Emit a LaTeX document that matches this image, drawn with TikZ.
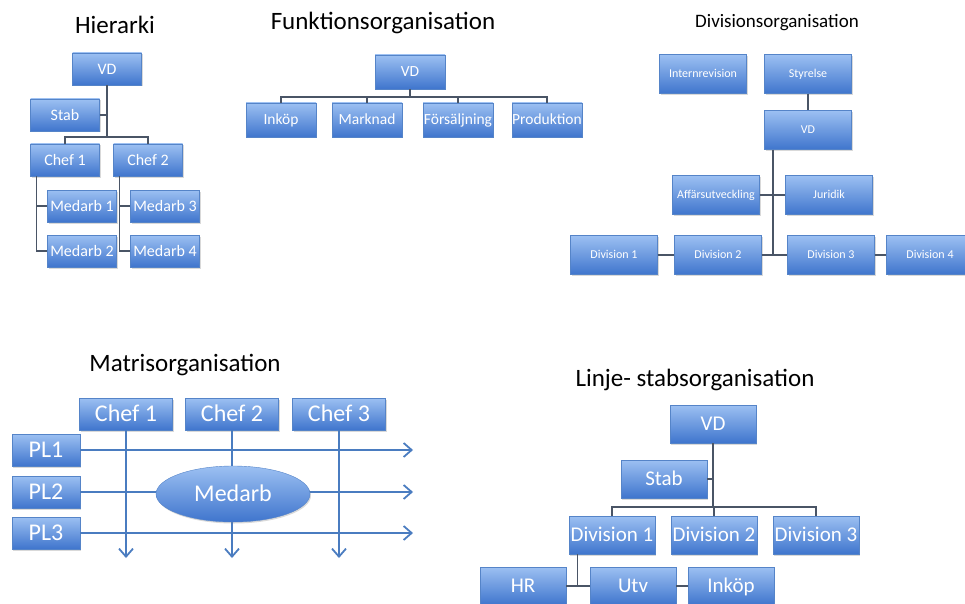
\documentclass[tikz,border=0pt]{standalone}
\usepackage{fontspec}
\setmainfont{Carlito}
\usepackage{tikz}
\usetikzlibrary{calc,positioning,arrows.meta,shapes.geometric,shadows}

\definecolor{boxtop}{HTML}{9CC0F2}
\definecolor{boxbot}{HTML}{3F75CD}
\definecolor{boxedge}{HTML}{5584C8}
\definecolor{linkgray}{HTML}{4A5566}
\definecolor{arrblue}{HTML}{4A7CC0}

\tikzset{
	orgbox/.style={draw=boxedge, line width=0.4pt, top color=boxtop, bottom color=boxbot,
		text=white, inner sep=0pt,
		drop shadow={opacity=0.3, shadow xshift=1pt, shadow yshift=-1.5pt}},
	hbox/.style={orgbox, minimum width=69pt, minimum height=32pt, font=\fontsize{16}{16}\selectfont,
		text height=11.5pt, text depth=1.3pt},
	fbox/.style={orgbox, minimum width=70pt, minimum height=34pt, font=\fontsize{15.5}{15.5}\selectfont,
		text height=11.2pt, text depth=1.2pt},
	dbox/.style={orgbox, minimum width=87pt, minimum height=39pt, font=\fontsize{12}{12}\selectfont,
		text height=8.6pt, text depth=1pt},
	mbox/.style={orgbox, minimum width=93pt, minimum height=32pt, font=\fontsize{24}{24}\selectfont,
		text height=17.3pt, text depth=1.9pt},
	lbox/.style={orgbox, minimum width=86pt, minimum height=38pt, font=\fontsize{21}{21}\selectfont,
		text height=15.1pt, text depth=1.7pt},
	title/.style={text=black, font=\fontsize{25}{25}\selectfont},
	link/.style={draw=linkgray, line width=1.2pt},
	marr/.style={draw=arrblue, line width=1.8pt, -{Straight Barb[length=8pt,width=14pt,line width=1.8pt]}}
}

\begin{document}
\begin{tikzpicture}[x=1pt,y=-1pt]
		\useasboundingbox (0,0) rectangle (965,604);
		% Hierarki
		\node[title] (thier) at (115,25) {Hierarki};
		\node[hbox] (hvd) at (107,69) {VD};
		\node[hbox] (hstab) at (65,115) {Stab};
		\node[hbox] (hc1) at (65,160) {Chef 1};
		\node[hbox] (hc2) at (148,160) {Chef 2};
		\node[hbox] (hm1) at (82,206) {Medarb 1};
		\node[hbox] (hm2) at (82,251) {Medarb 2};
		\node[hbox] (hm3) at (165,206) {Medarb 3};
		\node[hbox] (hm4) at (165,251) {Medarb 4};
		\coordinate (hj) at (107,137);
		\draw[link] (hvd.south) -- (hj);
		\draw[link] (hstab.east) -- (hstab.east -| hj);
		\draw[link] (hc1.north) |- (hj) -| (hc2.north);
		\draw[link] ([xshift=6pt]hc1.south west) |- (hm1.west);
		\draw[link] ([xshift=6pt]hc1.south west) |- (hm2.west);
		\draw[link] ([xshift=6pt]hc2.south west) |- (hm3.west);
		\draw[link] ([xshift=6pt]hc2.south west) |- (hm4.west);
		
		% Funktionsorganisation
		\node[title] (tfunk) at (383,23) {Funktionsorganisation};
		\node[fbox] (fvd) at (410,72) {VD};
		\node[fbox] (fin) at (281,120) {Inköp};
		\node[fbox] (fma) at (367,120) {Marknad};
		\node[fbox] (fsa) at (458,120) {Försäljning};
		\node[fbox] (fpr) at (547,120) {Produktion};
		\coordinate (fj) at (410,97);
		\draw[link] (fvd.south) -- (fj);
		\draw[link] (fin.north) |- (fj) -| (fpr.north);
		\draw[link] (fma.north) -- (fma.north |- fj);
		\draw[link] (fsa.north) -- (fsa.north |- fj);
		
		% Divisionsorganisation
		\node[title, font=\fontsize{19}{19}\selectfont] (tdiv) at (777,23) {Divisionsorganisation};
		\node[dbox] (dint) at (703,74) {Internrevision};
		\node[dbox] (dsty) at (808,74) {Styrelse};
		\node[dbox] (dvd) at (808,130) {VD};
		\node[dbox] (daf) at (716,195) {Affärsutveckling};
		\node[dbox] (dju) at (829,195) {Juridik};
		\node[dbox] (dd1) at (614,255) {Division 1};
		\node[dbox] (dd2) at (718,255) {Division 2};
		\node[dbox] (dd3) at (831,255) {Division 3};
		\node[dbox] (dd4) at (930,255) {Division 4};
		\coordinate (dj) at (773,255);
		\draw[link] (dsty) -- (dvd);
		\draw[link] (dvd.south -| dj) -- (dj);
		\draw[link] (daf.east) -- (daf.east -| dj);
		\draw[link] (dju.west) -- (dju.west -| dj);
		\draw[link] (dd1) -- (dd2);
		\draw[link] (dd2) -- (dd3);
		\draw[link] (dd3) -- (dd4);
		
		% Matrisorganisation
		\node[title] (tmat) at (185,365) {Matrisorganisation};
		\foreach \i/\x in {1/126,2/232,3/339} {
			\node[mbox] (mc\i) at (\x,414) {Chef \i};
		};
		\foreach \i/\y in {1/450,2/492,3/533} {
			\node[mbox, minimum width=68pt] (mpl\i) at (46,\y) {PL\i};
		};
		\coordinate (mright) at (413,0);
		\coordinate (mbot) at (0,558);
		\foreach \i in {1,2,3} {
			\draw[marr] (mpl\i.east) -- (mpl\i.east -| mright);
			\draw[marr] (mc\i.south) -- (mc\i.south |- mbot);
		};
		\node[orgbox, ellipse, minimum width=154pt, minimum height=56pt,
			font=\fontsize{24}{24}\selectfont, text height=17.3pt, text depth=1.9pt] (mmed) at (233,494) {Medarb};
		
		% Linje- stabsorganisation
		\node[title] (tlin) at (695,380) {Linje- stabsorganisation};
		\node[lbox] (lvd) at (713,424) {VD};
		\node[lbox] (lstab) at (664,479) {Stab};
		\node[lbox] (ld1) at (612,535) {Division 1};
		\node[lbox] (ld2) at (714,535) {Division 2};
		\node[lbox] (ld3) at (816,535) {Division 3};
		\node[lbox] (lhr) at (523,586) {HR};
		\node[lbox] (lutv) at (633,586) {Utv};
		\node[lbox] (link) at (731,586) {Inköp};
		\coordinate (lj) at (713,507);
		\draw[link] (lvd.south) -- (lj);
		\draw[link] (lstab.east) -- (lstab.east -| lj);
		\draw[link] (ld1.north) |- (lj) -| (ld3.north);
		\draw[link] (ld2.north) -- (ld2.north |- lj);
		\draw[link] ([xshift=9pt]ld1.south west) |- (lutv.west);
		\draw[link] (lhr) -- (lutv);
		\draw[link] (lutv) -- (link);
	\end{tikzpicture}
\end{document}
